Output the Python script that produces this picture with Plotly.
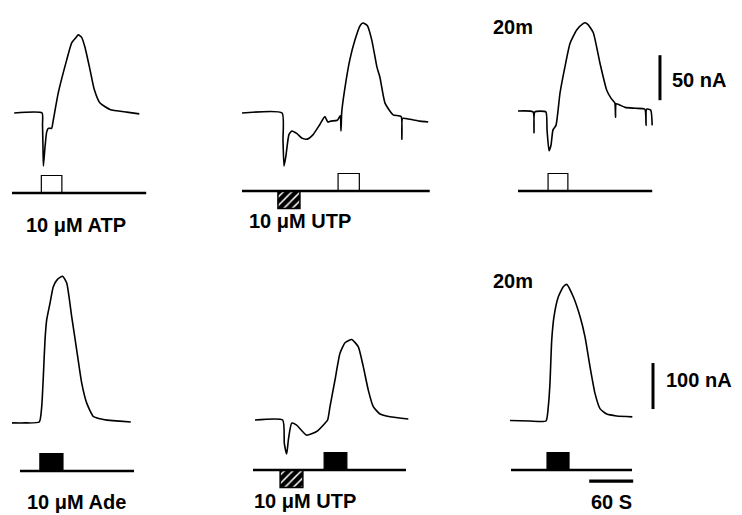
import plotly.graph_objects as go

# ------------------------------------------------------------------
# DATA  (time in s from start of each record, current in nA, upward +)
# ------------------------------------------------------------------
atp_t = [3, 41, 41.6, 42.2, 42.8, 45, 47.3, 49.5, 54, 56.3, 63, 74.6, 81.4, 87.3,
         90.4, 95, 99.5, 106.4, 112.2, 120, 133.6, 156.4, 173.6]
atp_i = [0, 0, -13, -36, -59, -38, -21, -17, -17, -8, 22, 59, 78, 84,
         87, 84, 73, 48, 26, 11, 4, 1, -1]

utp_atp_t = [0, 54.6, 55.9, 57.3, 60, 64, 68, 75, 82, 89, 97, 106, 113, 117, 121, 130,
             134, 135, 136, 140, 147, 154, 161, 165, 171, 177, 184, 188, 195, 206,
             217, 218, 219, 229, 243, 254]
utp_atp_i = [0, 0, -30, -59, -47, -24, -20, -23, -28, -29, -24, -13, -4, -10, -9, -8,
             -3, -20, 1, 26, 59, 81, 97, 100, 97, 81, 51, 40, 11, -2,
             -4, -29, -6, -7, -9, -10]

atp20_t = [0, 20.5, 21.8, 23, 38, 39.6, 42.3, 45, 47.7, 51.8, 57.3, 64, 70.9, 80,
           88.7, 91.4, 95.5, 102.7, 111.8, 121, 127, 132, 133, 134, 146, 160, 173,
           174.6, 175.3, 181, 183]
atp20_i = [0, -1, -24, -1, -1, -21, -44, -38, -21, -16, 20, 49, 75, 90,
           97, 98, 96, 87, 53, 23, 14, 9, -7, 8, 4, 3, 2,
           -16, 2, 1, -16]

ade_t = [0, 17.7, 37.2, 40.5, 42.7, 45, 47.3, 51.8, 56.3, 62, 69.1, 74.6, 81.4,
         88.2, 95, 101.9, 110.9, 120, 129.6, 147, 162]
ade_i = [-2, -2, 0, 33, 98, 178, 222, 258, 294, 310, 317, 302, 229,
         157, 85, 41, 12, 7, 4, 2, 0]

utp_ade_t = [2.7, 40.5, 42.7, 45.9, 48.5, 52.7, 59.5, 73.2, 86.8, 98.2, 101.8, 105,
             111.8, 118.6, 125.5, 134.6, 143.6, 150.4, 157.2, 164, 173.2, 186.8, 211.8]
utp_ade_i = [0, 0, -51, -74, -40, -7, -11, -33, -25, -7, 0, 29,
             87, 145, 168, 175, 159, 116, 65, 29, 13, 7, 2]

ade20_t = [0, 27, 49.1, 52.2, 54.5, 56.9, 60, 65.9, 72.7, 77.3, 86.3, 95.5, 102.3,
           109.1, 115.9, 122.7, 131.9, 145.5, 166.8]
ade20_i = [1, 0, 0, 31, 82, 176, 227, 270, 292, 297, 270, 227, 183,
           118, 60, 27, 15, 11, 9]

# recording spans (s) and agonist applications (start, end, kind)
rec_spans = [(0, 183), (0, 256), (0, 183), (10.9, 166.4), (0, 208.6), (1.4, 166.4)]
applications = [
    [(40, 68, "ATP")],
    [(49, 79, "UTP"), (131, 160, "ATP")],
    [(41, 68, "ATP")],
    [(38, 69.5, "Ade")],
    [(37, 68, "UTP"), (97, 128, "Ade")],
    [(50.5, 80.5, "Ade")],
]
labels = ["10 μM ATP", "10 μM UTP", "20m", "10 μM Ade", "10 μM UTP", "20m"]

scale_top_na = 50
scale_bot_na = 100
scale_time_s = 60

# ------------------------------------------------------------------
# LAYOUT / STYLE
# ------------------------------------------------------------------
W, H = 742, 515
PX_PER_S = 44 / 60
STIM_UNIT_PX = 17.5
FONT = "Liberation Sans, Arial, sans-serif"
TXT = dict(family=FONT, size=20, color="black", weight=700)

traces_t = [atp_t, utp_atp_t, atp20_t, ade_t, utp_ade_t, ade20_t]
traces_i = [atp_i, utp_atp_i, atp20_i, ade_i, utp_ade_i, ade20_i]
# panel placement: left edge px, trace baseline px, px per nA, stimulus line px
place = [
    dict(left=12, base=113, na_px=0.9, stim=193),
    dict(left=242, base=113, na_px=0.9, stim=191),
    dict(left=518, base=111, na_px=0.9, stim=191),
    dict(left=12, base=422, na_px=0.46, stim=471),
    dict(left=253, base=420, na_px=0.46, stim=470),
    dict(left=510, base=421, na_px=0.46, stim=470),
]
label_pos = [(76, 225), (300, 221), (513, 27), (76, 502), (305, 501), (513, 281)]

fig = go.Figure()
layout = dict(width=W, height=H, margin=dict(l=0, r=0, t=0, b=0),
              paper_bgcolor="white", plot_bgcolor="rgba(0,0,0,0)",
              showlegend=False, barmode="overlay")

def axname(prefix, n):
    return prefix if n == 1 else f"{prefix}{n}"

for k in range(6):
    p = place[k]
    xn, yn, sn = k + 1, k + 1, k + 7
    layout[axname("xaxis", xn)] = dict(domain=[0, 1], visible=False, fixedrange=True,
                                       range=[-p["left"] / PX_PER_S, (W - p["left"]) / PX_PER_S])
    layout[axname("yaxis", yn)] = dict(domain=[0, 1], visible=False, fixedrange=True,
                                       range=[-(H - p["base"]) / p["na_px"], p["base"] / p["na_px"]])
    layout[axname("yaxis", sn)] = dict(domain=[0, 1], visible=False, fixedrange=True,
                                       range=[-(H - p["stim"]) / STIM_UNIT_PX, p["stim"] / STIM_UNIT_PX])
    xr = axname("x", xn)
    # current trace
    fig.add_trace(go.Scatter(x=traces_t[k], y=traces_i[k], mode="lines",
                             line=dict(color="black", width=1.6, shape="spline", smoothing=0.5),
                             xaxis=xr, yaxis=axname("y", yn), hoverinfo="skip"))
    # stimulus baseline
    a, b = rec_spans[k]
    fig.add_trace(go.Scatter(x=[a, b], y=[0, 0], mode="lines",
                             line=dict(color="black", width=2.3),
                             xaxis=xr, yaxis=axname("y", sn), hoverinfo="skip"))
    # applications
    for (s, e, kind) in applications[k]:
        if kind == "UTP":
            marker = dict(color="black", line=dict(color="black", width=1.5),
                          pattern=dict(shape="/", fgcolor="white", bgcolor="black",
                                       fillmode="replace", size=6, solidity=0.25))
            h = -1.0
        elif kind == "ATP":
            marker = dict(color="white", line=dict(color="black", width=1.2))
            h = 1.0
        else:
            marker = dict(color="black", line=dict(color="black", width=1.2))
            h = 1.0
        fig.add_trace(go.Bar(x=[(s + e) / 2], y=[h], base=[0], width=[e - s],
                             marker=marker, xaxis=xr, yaxis=axname("y", sn),
                             hoverinfo="skip"))

# calibration bars
fig.add_trace(go.Scatter(x=[193.6, 193.6], y=[12, 12 + scale_top_na], mode="lines",
                         line=dict(color="black", width=3), xaxis="x3", yaxis="y3",
                         hoverinfo="skip"))
fig.add_trace(go.Scatter(x=[195, 195], y=[26, 26 + scale_bot_na], mode="lines",
                         line=dict(color="black", width=3), xaxis="x6", yaxis="y6",
                         hoverinfo="skip"))
fig.add_trace(go.Scatter(x=[108, 108 + scale_time_s], y=[-0.63, -0.63], mode="lines",
                         line=dict(color="black", width=3.2), xaxis="x6", yaxis="y12",
                         hoverinfo="skip"))

annotations = []
for (txt, (px, py)) in zip(labels, label_pos):
    annotations.append(dict(text=txt, x=px / W, y=1 - py / H, xref="paper", yref="paper",
                            showarrow=False, xanchor="center", yanchor="middle", font=TXT))
annotations.append(dict(text=f"{scale_top_na} nA", x=670 / W, y=1 - 80.5 / H, xref="paper",
                        yref="paper", showarrow=False, xanchor="left", yanchor="middle", font=TXT))
annotations.append(dict(text=f"{scale_bot_na} nA", x=664 / W, y=1 - 380 / H, xref="paper",
                        yref="paper", showarrow=False, xanchor="left", yanchor="middle", font=TXT))
annotations.append(dict(text=f"{scale_time_s} S", x=611 / W, y=1 - 502 / H, xref="paper",
                        yref="paper", showarrow=False, xanchor="center", yanchor="middle", font=TXT))
layout["annotations"] = annotations

fig.update_layout(**layout)
fig.write_html("out.html", config={"displayModeBar": False, "staticPlot": True},
               post_script="document.body.style.margin='0';document.body.style.overflow='hidden';")
